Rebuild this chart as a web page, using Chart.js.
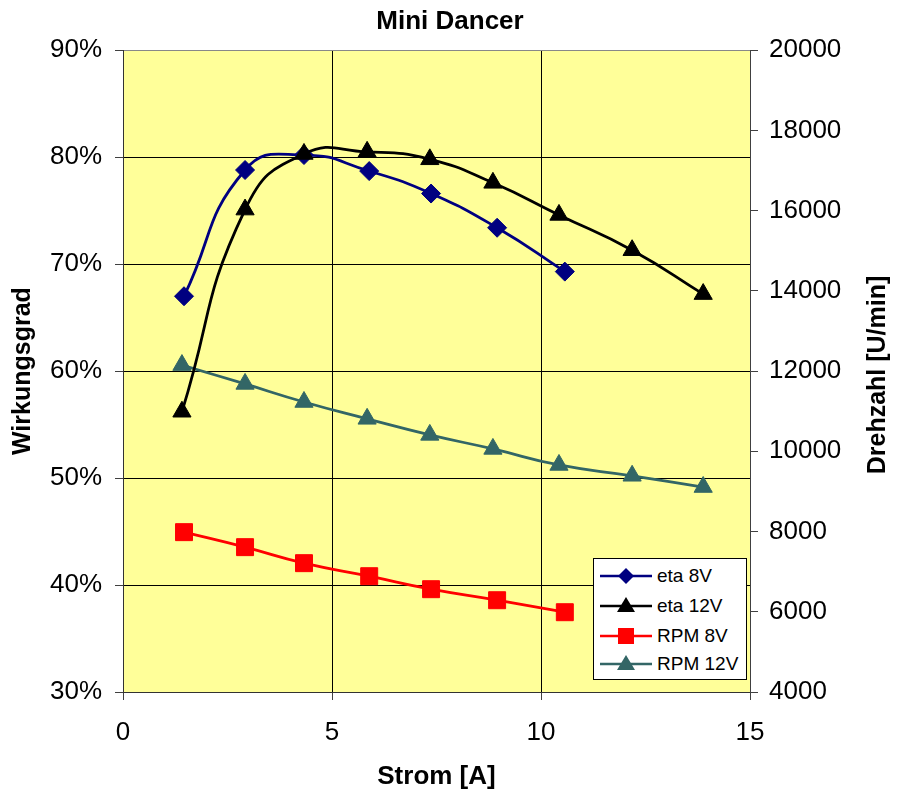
<!DOCTYPE html>
<html>
<head>
<meta charset="utf-8">
<title>Mini Dancer</title>
<script src="https://cdn.jsdelivr.net/npm/chart.js@4"></script>
<style>
    body { margin: 0; background: #fff; }
    #wrap { position: relative; width: 900px; height: 796px; }
    #legend {
        position: absolute; left: 593px; top: 558px; width: 152px; height: 120px;
        background: #fff; border: 1px solid #000;
        font-family: "Liberation Sans", Arial, sans-serif; font-size: 19px; color: #000;
    }
    #legend .row { position: absolute; left: 6px; height: 24px; display: flex; align-items: center; }
    #legend svg { margin-right: 5px; }
</style>
</head>
<body>
<div id="wrap">
    <canvas id="chart"></canvas>
    <div id="legend"></div>
</div>
<script>
// current [A]
const current8V = [1.46, 2.92, 4.33, 5.89, 7.37, 8.95, 10.57];
const current12V = [1.41, 2.92, 4.33, 5.84, 7.34, 8.85, 10.43, 12.18, 13.88];

// efficiency [%]
const eta8V = [67.0, 78.8, 80.2, 78.7, 76.6, 73.4, 69.3];
const eta12V = [56.2, 75.1, 80.3, 80.5, 79.8, 77.6, 74.6, 71.3, 67.2];

// speed [U/min]
const rpm8V = [7985, 7611, 7212, 6887, 6563, 6288, 5989];
const rpm12V = [12150, 11680, 11230, 10810, 10410, 10060, 9660, 9390, 9110];

const seriesNames = ['eta 8V', 'eta 12V', 'RPM 8V', 'RPM 12V'];

const FONT = '"Liberation Sans", Arial, sans-serif';

function toPoints(xs, ys) {
    return xs.map((x, i) => ({ x: x, y: ys[i] }));
}

// yellow plot background + right axis title (reads bottom to top)
const plotDecor = {
    id: 'plotDecor',
    beforeDraw(chart) {
        const { ctx, chartArea } = chart;
        ctx.save();
        ctx.fillStyle = '#FFFF99';
        ctx.fillRect(chartArea.left, chartArea.top, chartArea.width, chartArea.height);
        ctx.restore();
    },
    afterDraw(chart) {
        const ctx = chart.ctx;
        ctx.save();
        ctx.translate(878, 375);
        ctx.rotate(-Math.PI / 2);
        ctx.font = 'bold 25px ' + FONT;
        ctx.fillStyle = '#000';
        ctx.textAlign = 'center';
        ctx.textBaseline = 'middle';
        ctx.fillText('Drehzahl [U/min]', 0, 0);
        ctx.restore();
    }
};

const datasets = [
    {
        label: seriesNames[0],
        data: toPoints(current8V, eta8V),
        yAxisID: 'y',
        borderColor: '#000080',
        backgroundColor: '#000080',
        pointStyle: 'rectRot',
        pointRadius: 9.5,
        order: 4
    },
    {
        label: seriesNames[1],
        data: toPoints(current12V, eta12V),
        yAxisID: 'y',
        borderColor: '#000000',
        backgroundColor: '#000000',
        pointStyle: 'triangle',
        pointRadius: 10.5,
        order: 1
    },
    {
        label: seriesNames[2],
        data: toPoints(current8V, rpm8V),
        yAxisID: 'y2',
        borderColor: '#FF0000',
        backgroundColor: '#FF0000',
        pointStyle: 'rect',
        pointRadius: 12,
        order: 3
    },
    {
        label: seriesNames[3],
        data: toPoints(current12V, rpm12V),
        yAxisID: 'y2',
        borderColor: '#336666',
        backgroundColor: '#336666',
        pointStyle: 'triangle',
        pointRadius: 10.5,
        order: 2
    }
];

datasets.forEach(ds => {
    ds.borderWidth = 2.8;
    ds.pointBorderWidth = 1;
    ds.pointBorderColor = ds.borderColor;
    ds.tension = 0.5;
    ds.fill = false;
});

const ctx = document.getElementById('chart').getContext('2d');
new Chart(ctx, {
    type: 'line',
    data: { datasets: datasets },
    options: {
        responsive: true,
        maintainAspectRatio: false,
        animation: false,
        layout: { padding: 0 },
        plugins: {
            legend: { display: false },
            tooltip: { enabled: false },
            title: {
                display: true,
                text: 'Mini Dancer',
                color: '#000',
                font: { family: FONT, size: 26, weight: 'bold' },
                padding: { top: 6, bottom: 13 }
            }
        },
        scales: {
            x: {
                type: 'linear',
                min: 0,
                max: 15,
                ticks: {
                    stepSize: 5,
                    color: '#000',
                    padding: 17,
                    font: { family: FONT, size: 26 }
                },
                grid: {
                    color: c => (c.tick && c.tick.value === 15 ? '#606060' : '#000'),
                    tickColor: '#404040',
                    tickLength: 8
                },
                border: { color: '#333', width: 1 },
                title: {
                    display: true,
                    text: 'Strom [A]',
                    color: '#000',
                    font: { family: FONT, size: 26, weight: 'bold' },
                    padding: { top: 4, bottom: 4 }
                },
                afterFit: scale => { scale.height = 104; }
            },
            y: {
                position: 'left',
                min: 30,
                max: 90,
                ticks: {
                    stepSize: 10,
                    color: '#000',
                    padding: 13,
                    font: { family: FONT, size: 26 },
                    callback: v => v + '%'
                },
                grid: {
                    color: c => (c.tick && c.tick.value === 90 ? '#888' : '#000'),
                    tickColor: '#404040',
                    tickLength: 8
                },
                border: { color: '#333', width: 1 },
                title: {
                    display: true,
                    text: 'Wirkungsgrad',
                    color: '#000',
                    font: { family: FONT, size: 25, weight: 'bold' },
                    padding: { top: 8, bottom: 8 }
                },
                afterFit: scale => { scale.width = 123; }
            },
            y2: {
                position: 'right',
                min: 4000,
                max: 20000,
                ticks: {
                    stepSize: 2000,
                    color: '#000',
                    padding: 11,
                    font: { family: FONT, size: 26 },
                    callback: v => String(v)
                },
                grid: {
                    drawOnChartArea: false,
                    color: '#404040',
                    tickLength: 8
                },
                border: { color: '#404040', width: 1 },
                afterFit: scale => { scale.width = 150; }
            }
        }
    },
    plugins: [plotDecor]
});

// legend box drawn in HTML, bottom right inside plot area
function markerSvg(ds) {
    const c = ds.borderColor;
    let shape = '';
    if (ds.pointStyle === 'rectRot') {
        shape = `<polygon points="26,3 34,11 26,19 18,11" fill="${c}"/>`;
    } else if (ds.pointStyle === 'rect') {
        shape = `<rect x="18" y="3" width="16" height="16" fill="${c}"/>`;
    } else {
        shape = `<polygon points="26,2 35,17 17,17" fill="${c}"/>`;
    }
    return `<svg width="52" height="22"><line x1="0" y1="11" x2="52" y2="11" stroke="${c}" stroke-width="2.5"/>${shape}</svg>`;
}

const legendEl = document.getElementById('legend');
const rowTops = [5, 35, 65, 93];
datasets.forEach((ds, i) => {
    const row = document.createElement('div');
    row.className = 'row';
    row.style.top = rowTops[i] + 'px';
    row.innerHTML = markerSvg(ds) + '<span>' + ds.label + '</span>';
    legendEl.appendChild(row);
});
</script>
</body>
</html>
